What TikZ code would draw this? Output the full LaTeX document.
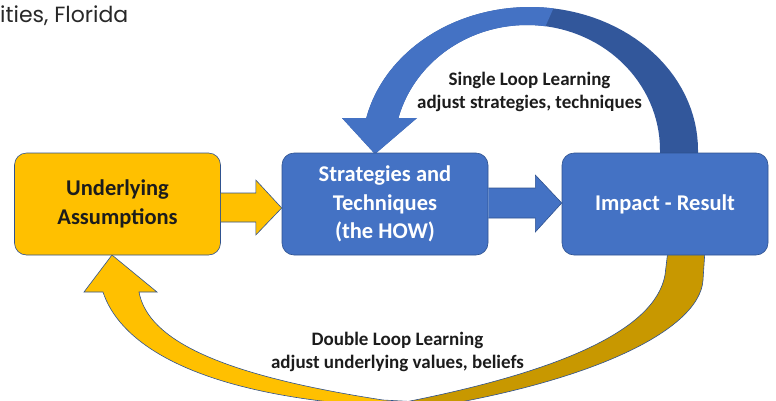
\documentclass[tikz,border=0pt]{standalone}
\usepackage{fontspec}
\setmainfont{Carlito}
\newfontfamily\poppins{Poppins}
\usetikzlibrary{calc}
\definecolor{ylw}{RGB}{255,192,0}
\definecolor{ylwdark}{RGB}{200,152,0}
\definecolor{blu}{RGB}{68,114,196}
\definecolor{bludark}{RGB}{50,87,155}
\definecolor{edge}{RGB}{47,82,143}
\definecolor{txt}{RGB}{28,28,28}

\begin{document}
\begin{tikzpicture}[x=1pt,y=-1pt,
    box/.style={rounded corners=12pt, minimum width=206pt, minimum height=102pt,
      draw=edge, line width=0.6pt, align=center,
      font=\bfseries\fontsize{22.5}{28.5}\selectfont},
    ybox/.style={box, fill=ylw, text=txt},
    bbox/.style={box, fill=blu, text=white},
    outl/.style={draw=edge, line width=0.6pt},
    looptxt/.style={align=center, text=txt, font=\bfseries\fontsize{19}{23}\selectfont}]
  \useasboundingbox (0,0) rectangle (776,400);
  \clip (0,0) rectangle (776,400);

  \coordinate (ua-c) at (117.5,204);
  \coordinate (st-c) at (385,204);
  \coordinate (im-c) at (665,204);

  % single loop (blue, back half darker)
  \fill[bludark] (698,156) -- plot[domain=0:-167.07,samples=60] ({530+168*cos(\x)},{150+143*sin(\x)})
    -- (342,118) -- (375,154) -- (417,118)
    -- plot[domain=-165.17:0,samples=60] ({527+133*cos(\x)},{150+125*sin(\x)}) -- (660,156) -- cycle;
  \fill[blu] plot[domain=-82:-167.07,samples=50] ({530+168*cos(\x)},{150+143*sin(\x)})
    -- (342,118) -- (375,154) -- (417,118)
    -- plot[domain=-165.17:-82,samples=50] ({527+133*cos(\x)},{150+125*sin(\x)}) -- cycle;

  % double loop (yellow, back half darker)
  \filldraw[ylwdark, outl] (705,250) -- (703,280) .. controls (700,330) and (590,385) .. (400,412)
    -- (400,403) .. controls (560,372) and (655,330) .. (665,275) -- (668,250) -- cycle;
  \filldraw[ylw, outl] (139,292) -- (157,292) -- (112,255) -- (84,292) -- (103,292)
    .. controls (118,338) and (180,385) .. (330,402) -- (420,412) -- (420,402) -- (383,400)
    .. controls (220,375) and (148,340) .. (139,292) -- cycle;

  % boxes
  \node[ybox] (ua) at (ua-c) {Underlying\\Assumptions};
  \node[bbox] (st) at (st-c) {Strategies and\\Techniques\\(the HOW)};
  \node[bbox] (im) at (im-c) {Impact - Result};

  % block arrows between the boxes
  \filldraw[ylw, outl] ($(ua.east)+(0,-11)$) -| ($(ua.east)+(35,-24)$) -- ($(st.west)+(0,4)$)
    -- ($(ua.east)+(35,31)$) |- ($(ua.east)+(0,18)$);
  \filldraw[blu, outl] ($(st.east)+(0,-16)$) -| ($(st.east)+(47,-29)$) -- ($(im.west)+(0,-1)$)
    -- ($(st.east)+(47,28)$) |- ($(st.east)+(0,14)$);

  % labels
  \node[looptxt] (sl) at (529.5,92) {Single Loop Learning\\adjust strategies, techniques};
  \node[looptxt] (dl) at (397.5,351.5) {Double Loop Learning\\adjust underlying values, beliefs};
  \node[anchor=base west, inner sep=0pt, text={rgb,255:red,40;green,40;blue,40},
    font=\poppins\fontsize{22}{26}\selectfont] (src) at (0,22) {ities, Florida};
\end{tikzpicture}
\end{document}
